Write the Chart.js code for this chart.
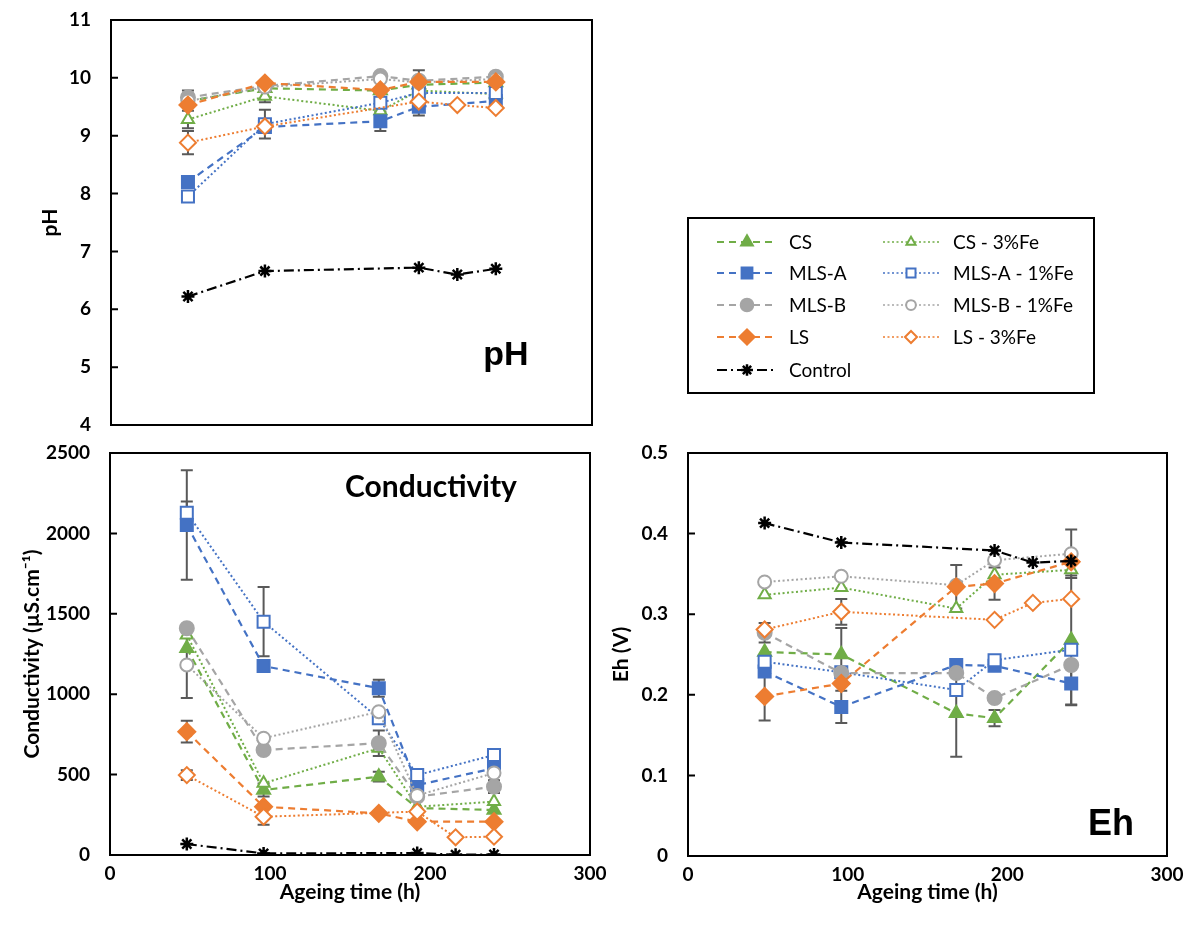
<!DOCTYPE html>
<html>
<head>
<meta charset="utf-8">
<script src="https://cdn.jsdelivr.net/npm/chart.js@4.4.1/dist/chart.umd.min.js"></script>
<style>
  body { margin: 0; background: #fff; width: 1194px; height: 935px; position: relative; overflow: hidden; }
  .panel { position: absolute; }
</style>
</head>
<body>
<div class="panel" style="left:0;top:0"><canvas id="phChart" width="610" height="445"></canvas></div>
<div class="panel" style="left:0;top:440px"><canvas id="condChart" width="610" height="495"></canvas></div>
<div class="panel" style="left:580px;top:440px"><canvas id="ehChart" width="614" height="495"></canvas></div>
<div class="panel" style="left:685px;top:215px"><canvas id="legend" width="412" height="181"></canvas></div>
<script>
// 採取時間 (h)
const hoursMain = [48, 96, 168, 192, 240];
const hoursAlt = [48, 96, 192, 216, 240]; // LS - 3%Fe と Control

const seriesNames = ['CS', 'CS - 3%Fe', 'MLS-A', 'MLS-A - 1%Fe', 'MLS-B', 'MLS-B - 1%Fe', 'LS', 'LS - 3%Fe', 'Control'];

// pH
const phCS = [9.6, 9.82, 9.78, 9.88, 9.92];
const phCSFe = [9.28, 9.68, 9.43, 9.78, 9.72];
const phMLSA = [8.2, 9.15, 9.25, 9.5, 9.6];
const phMLSAFe = [7.95, 9.2, 9.57, 9.74, 9.74];
const phMLSB = [9.66, 9.86, 10.03, 9.95, 10.02];
const phMLSBFe = [9.6, 9.84, 9.98, 9.92, 9.98];
const phLS = [9.53, 9.91, 9.79, 9.93, 9.93];
const phLSFe = [8.88, 9.16, 9.59, 9.53, 9.48];
const phControl = [6.22, 6.66, 6.72, 6.6, 6.7];

// Conductivity (µS/cm)
const cdCS = [1285, 404, 487, 292, 280];
const cdCSFe = [1368, 446, 664, 300, 332];
const cdMLSA = [2052, 1175, 1037, 435, 539];
const cdMLSAFe = [2129, 1451, 850, 497, 622];
const cdMLSB = [1410, 653, 695, 363, 425];
const cdMLSBFe = [1182, 726, 891, 370, 510];
const cdLS = [767, 300, 259, 207, 207];
const cdLSFe = [497, 238, 270, 110, 114];
const cdControl = [68, 10, 12, 2, 3];

// Eh (V)
const ehCS = [0.253, 0.250, 0.177, 0.171, 0.268];
const ehCSFe = [0.324, 0.333, 0.307, 0.349, 0.355];
const ehMLSA = [0.229, 0.185, 0.237, 0.236, 0.214];
const ehMLSAFe = [0.241, 0.228, 0.206, 0.243, 0.256];
const ehMLSB = [0.277, 0.227, 0.227, 0.196, 0.237];
const ehMLSBFe = [0.340, 0.347, 0.336, 0.367, 0.375];
const ehLS = [0.198, 0.214, 0.334, 0.338, 0.365];
const ehLSFe = [0.281, 0.303, 0.293, 0.314, 0.319];
const ehControl = [0.413, 0.389, 0.379, 0.364, 0.366];

// 誤差 [系列, 点番号, ±値]
const phErrors = [['MLS-B', 0, 0.12], ['CS - 3%Fe', 0, 0.15], ['LS - 3%Fe', 0, 0.2], ['MLS-A', 0, 0.06],
  ['MLS-A - 1%Fe', 1, 0.25], ['CS - 3%Fe', 1, 0.1], ['MLS-A', 2, 0.17], ['LS', 3, 0.2], ['MLS-A', 3, 0.15], ['MLS-B', 4, 0.05]];
const cdErrors = [['MLS-A', 0, 340], ['MLS-A - 1%Fe', 0, 70], ['MLS-B - 1%Fe', 0, 205], ['LS', 0, 68], ['LS - 3%Fe', 0, 30],
  ['MLS-A - 1%Fe', 1, 215], ['LS - 3%Fe', 1, 50], ['CS', 1, 40], ['MLS-A', 2, 53], ['MLS-B', 2, 80], ['CS', 2, 30],
  ['MLS-A', 3, 60], ['MLS-A', 4, 50], ['MLS-B', 4, 40]];
const ehErrors = [['LS', 0, 0.03], ['MLS-B', 0, 0.012], ['MLS-A', 1, 0.02], ['LS - 3%Fe', 1, 0.016], ['CS', 1, 0.033],
  ['CS', 2, 0.054], ['LS', 2, 0.027], ['LS', 3, 0.02], ['CS', 3, 0.01], ['MLS-B - 1%Fe', 4, 0.03], ['MLS-A', 4, 0.027], ['CS', 4, 0.08]];

// 系列ごとの見た目
const GREEN = '#70AD47', BLUE = '#4472C4', GREY = '#A5A5A5', ORANGE = '#ED7D31';
const DASH = [7, 5], DOT = [2, 2.5], DASHDOT = [10, 4, 2, 4];
const STYLES = [
  { color: GREEN, filled: true, marker: 'triangle', r: 7.5, dash: DASH },
  { color: GREEN, filled: false, marker: 'triangle', r: 7, dash: DOT },
  { color: BLUE, filled: true, marker: 'rect', r: 8.5, dash: DASH },
  { color: BLUE, filled: false, marker: 'rect', r: 8.5, dash: DOT },
  { color: GREY, filled: true, marker: 'circle', r: 7, dash: DASH },
  { color: GREY, filled: false, marker: 'circle', r: 6.5, dash: DOT },
  { color: ORANGE, filled: true, marker: 'rectRot', r: 8.5, dash: DASH },
  { color: ORANGE, filled: false, marker: 'rectRot', r: 8, dash: DOT },
  { color: '#000', filled: true, marker: 'star', r: 6.5, dash: DASHDOT },
];

function buildDatasets(values) {
  return seriesNames.map((name, i) => {
    const s = STYLES[i];
    const hours = (name === 'LS - 3%Fe' || name === 'Control') ? hoursAlt : hoursMain;
    return {
      label: name,
      data: values[i].map((v, j) => ({ x: hours[j], y: v })),
      borderColor: s.color,
      backgroundColor: s.filled ? s.color : '#fff',
      borderWidth: s.dash === DOT ? 2 : 2.2,
      borderDash: s.dash,
      pointStyle: s.marker,
      pointRadius: s.r,
      pointBorderColor: s.color,
      pointBackgroundColor: s.filled ? s.color : '#fff',
      pointBorderWidth: s.marker === 'star' ? 2.5 : 2,
      tension: 0,
      order: seriesNames.length - i,
    };
  });
}

// 誤差棒
const errorBarPlugin = {
  id: 'errorBars',
  beforeDatasetsDraw(chart, args, opts) {
    const { ctx, scales: { x, y } } = chart;
    ctx.save();
    ctx.strokeStyle = '#595959';
    ctx.lineWidth = 2;
    (opts.list || []).forEach(([name, idx, err]) => {
      const ds = chart.data.datasets.find(d => d.label === name);
      const p = ds.data[idx];
      const px = x.getPixelForValue(p.x);
      const top = y.getPixelForValue(p.y + err);
      const bot = y.getPixelForValue(p.y - err);
      ctx.beginPath();
      ctx.moveTo(px, top); ctx.lineTo(px, bot);
      ctx.moveTo(px - 6, top); ctx.lineTo(px + 6, top);
      ctx.moveTo(px - 6, bot); ctx.lineTo(px + 6, bot);
      ctx.stroke();
    });
    ctx.restore();
  },
};

// 枠と内向きの目盛り
const framePlugin = {
  id: 'frame',
  afterDatasetsDraw(chart) {
    const { ctx, chartArea: a, scales: { y } } = chart;
    ctx.save();
    ctx.strokeStyle = '#000';
    ctx.lineWidth = 2;
    ctx.strokeRect(a.left, a.top, a.right - a.left, a.bottom - a.top);
    ctx.beginPath();
    y.ticks.forEach(t => {
      const py = y.getPixelForValue(t.value);
      ctx.moveTo(a.left, py); ctx.lineTo(a.left + 7, py);
    });
    ctx.stroke();
    ctx.restore();
  },
};

// パネル名
const panelTextPlugin = {
  id: 'panelText',
  afterDraw(chart, args, opts) {
    const { ctx } = chart;
    ctx.save();
    ctx.font = opts.font;
    ctx.fillStyle = '#000';
    ctx.textAlign = 'center';
    ctx.textBaseline = 'middle';
    ctx.fillText(opts.text, opts.x, opts.y);
    ctx.restore();
  },
};

const tickFont = { family: 'Lato', size: 19, weight: 'bold', lineHeight: 1.2 };
const titleFont = { family: 'Lato', size: 21, weight: 'bold', lineHeight: 1.2 };

function makeChart(id, values, cfg) {
  return new Chart(document.getElementById(id), {
    type: 'line',
    data: { datasets: buildDatasets(values) },
    plugins: [errorBarPlugin, framePlugin, panelTextPlugin],
    options: {
      responsive: false,
      animation: false,
      layout: { padding: { top: cfg.padTop, right: cfg.padRight, left: 0, bottom: 0 } },
      plugins: {
        legend: { display: false },
        tooltip: { enabled: false },
        errorBars: { list: cfg.errors },
        panelText: cfg.label,
      },
      scales: {
        x: {
          type: 'linear', min: 0, max: 300,
          ticks: { stepSize: 100, display: cfg.showX, padding: 7, font: tickFont, color: '#000' },
          grid: { display: false, drawTicks: false },
          border: { display: false },
          title: { display: cfg.showX, text: 'Ageing time (h)', font: titleFont, color: '#000', padding: { top: 0, bottom: 30 } },
          afterFit: s => { s.height = cfg.xHeight; s.paddingLeft = 0; s.paddingRight = 0; },
        },
        y: {
          min: cfg.yMin, max: cfg.yMax,
          ticks: { stepSize: cfg.yStep, padding: 20, font: tickFont, color: '#000', callback: v => String(+v.toFixed(2)) },
          grid: { display: false, drawTicks: false },
          border: { display: false },
          title: { display: true, text: cfg.yTitle, font: titleFont, color: '#000', padding: { top: cfg.yTitlePad, bottom: 0 } },
          afterFit: s => { s.width = cfg.yWidth; s.paddingTop = 0; s.paddingBottom = 0; },
        },
      },
    },
  });
}

makeChart('phChart', [phCS, phCSFe, phMLSA, phMLSAFe, phMLSB, phMLSBFe, phLS, phLSFe, phControl], {
  padTop: 20, padRight: 18, xHeight: 20, yWidth: 111, showX: false,
  yMin: 4, yMax: 11, yStep: 1, yTitle: 'pH', yTitlePad: 38, errors: phErrors,
  label: { text: 'pH', x: 506, y: 356, font: 'bold 34px "Liberation Sans"' },
});

makeChart('condChart', [cdCS, cdCSFe, cdMLSA, cdMLSAFe, cdMLSB, cdMLSBFe, cdLS, cdLSFe, cdControl], {
  padTop: 13, padRight: 20, xHeight: 80, yWidth: 110, showX: true,
  yMin: 0, yMax: 2500, yStep: 500, yTitle: 'Conductivity (µS.cm⁻¹)', yTitlePad: 20, errors: cdErrors,
  label: { text: 'Conductivity', x: 431, y: 47, font: 'bold 30px Lato' },
});

makeChart('ehChart', [ehCS, ehCSFe, ehMLSA, ehMLSAFe, ehMLSB, ehMLSBFe, ehLS, ehLSFe, ehControl], {
  padTop: 13, padRight: 27, xHeight: 79, yWidth: 108, showX: true,
  yMin: 0, yMax: 0.5, yStep: 0.1, yTitle: 'Eh (V)', yTitlePad: 29, errors: ehErrors,
  label: { text: 'Eh', x: 531, y: 385, font: 'bold 36px "Liberation Sans"' },
});

// 凡例 (2列)
(function drawLegend() {
  const cv = document.getElementById('legend');
  const ctx = cv.getContext('2d');
  ctx.strokeStyle = '#000';
  ctx.lineWidth = 2;
  ctx.strokeRect(3, 3, 406, 175);
  const rows = [27, 58, 90, 122, 155];
  const cols = [{ x0: 32, x1: 92, text: 104 }, { x0: 198, x1: 254, text: 268 }];
  seriesNames.forEach((name, i) => {
    const s = STYLES[i];
    const col = cols[i === 8 ? 0 : i % 2];
    const y = rows[i === 8 ? 4 : Math.floor(i / 2)];
    ctx.save();
    ctx.strokeStyle = s.color;
    ctx.lineWidth = s.dash === DOT ? 1.5 : 2;
    ctx.setLineDash(s.dash);
    ctx.beginPath();
    ctx.moveTo(col.x0, y); ctx.lineTo(col.x1, y);
    ctx.stroke();
    ctx.setLineDash([]);
    ctx.fillStyle = s.filled ? s.color : '#fff';
    ctx.lineWidth = s.marker === 'star' ? 2.5 : 2;
    const mx = (col.x0 + col.x1) / 2;
    Chart.helpers.drawPoint(ctx, { pointStyle: s.marker, radius: s.r * (s.filled ? 0.9 : 0.75), rotation: 0, borderWidth: ctx.lineWidth }, mx, y);
    ctx.restore();
    ctx.fillStyle = '#000';
    ctx.font = '19px Lato';
    ctx.textBaseline = 'middle';
    ctx.fillText(name, col.text, y + 1);
  });
})();
</script>
</body>
</html>
